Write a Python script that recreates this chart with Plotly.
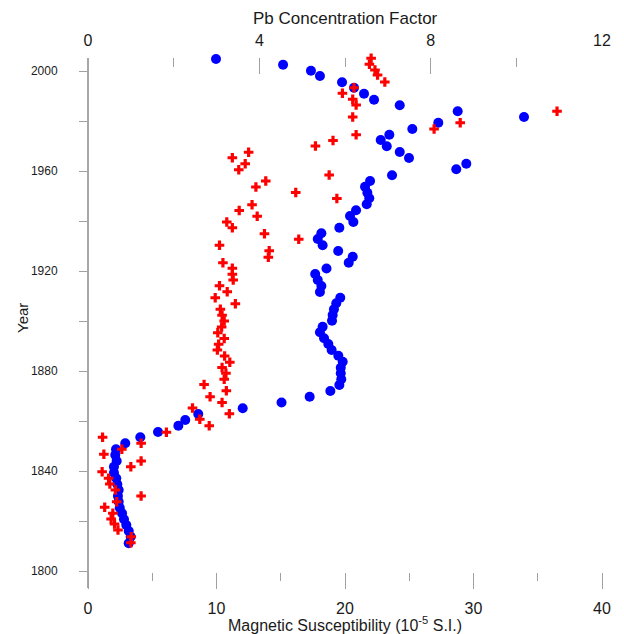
import plotly.graph_objects as go

# Magnetic susceptibility profile (blue circles)
years_ms = [2004.8, 2002.5, 2000.1, 1998.0, 1995.5, 1993.3, 1990.9, 1988.5, 1986.3, 1983.9,
            1981.6, 1979.3, 1976.8, 1974.5, 1972.4, 1969.9, 1967.6, 1965.2, 1962.9, 1960.7,
            1958.3, 1956.0, 1953.7, 1951.3, 1949.1, 1946.7, 1944.3, 1942.0, 1939.6, 1937.3,
            1935.1, 1932.8, 1930.3, 1928.0, 1925.7, 1923.3, 1921.0, 1918.8, 1916.4, 1914.0,
            1911.6, 1909.3, 1907.1, 1904.7, 1902.4, 1900.1, 1897.7, 1895.5, 1893.1, 1890.8,
            1888.4, 1886.1, 1883.7, 1881.3, 1879.1, 1876.7, 1874.4, 1872.0, 1869.7, 1867.4,
            1865.1, 1862.8, 1860.4, 1858.1, 1855.6, 1853.5, 1851.1, 1848.7, 1846.4, 1844.0,
            1841.7, 1839.3, 1837.1, 1834.7, 1832.4, 1830.0, 1827.7, 1825.3, 1823.1, 1820.7,
            1818.4, 1816.0, 1813.7, 1811.1]
mag_sus = [9.96, 15.18, 17.35, 18.05, 19.77, 20.70, 21.48, 22.26, 24.26, 28.77,
           33.93, 27.26, 25.24, 23.45, 22.78, 23.25, 24.26, 24.98, 29.44, 28.66,
           23.66, 21.95, 21.56, 21.74, 21.89, 21.69, 20.86, 20.39, 20.65, 19.56,
           18.16, 17.88, 18.26, 19.47, 20.60, 20.29, 18.56, 17.68, 17.88, 18.16,
           18.05, 19.63, 19.32, 19.14, 19.04, 18.99, 18.26, 18.05, 18.37, 18.70,
           18.96, 19.48, 19.82, 19.67, 19.67, 19.71, 19.56, 18.86, 17.25, 15.06,
           12.04, 8.58, 7.57, 7.03, 5.45, 4.07, 2.90, 2.18, 2.12, 2.23,
           2.02, 2.02, 2.20, 2.28, 2.39, 2.33, 2.39, 2.47, 2.65, 2.80,
           2.98, 3.17, 3.32, 3.17]

# Pb concentration factor profile (red crosses)
years_pb = [2005.1, 2002.7, 2000.4, 1998.4, 1995.6, 1993.3, 1991.1, 1988.7, 1986.4, 1983.9,
            1981.6, 1979.3, 1976.8, 1974.5, 1972.2, 1970.0, 1967.5, 1965.3, 1962.9, 1960.5,
            1958.4, 1956.0, 1953.6, 1951.4, 1949.0, 1946.5, 1944.2, 1941.9, 1939.6, 1937.3,
            1934.9, 1932.7, 1930.3, 1928.1, 1925.5, 1923.3, 1921.1, 1918.7, 1916.4, 1914.1,
            1911.7, 1909.3, 1906.9, 1904.7, 1902.3, 1900.0, 1897.6, 1895.3, 1893.0, 1890.7,
            1888.4, 1886.0, 1883.5, 1881.4, 1879.1, 1876.7, 1874.6, 1872.1, 1869.7, 1867.4,
            1865.2, 1862.9, 1860.7, 1858.1, 1855.5, 1853.5, 1851.1, 1848.7, 1846.7, 1844.0,
            1841.7, 1839.7, 1837.1, 1834.8, 1832.4, 1830.0, 1827.7, 1825.5, 1823.1, 1820.8,
            1818.8, 1816.4, 1813.7, 1811.3]
pb_cf = [6.61, 6.57, 6.70, 6.76, 6.93, 6.21, 5.94, 6.18, 6.26, 10.95,
         6.18, 8.69, 8.08, 6.26, 5.72, 5.31, 3.75, 3.37, 3.67, 3.52,
         5.63, 4.15, 3.92, 4.85, 5.81, 3.83, 3.53, 3.95, 3.24, 3.37,
         4.12, 4.92, 3.07, 4.23, 4.21, 3.15, 3.37, 3.37, 3.39, 3.07,
         3.25, 2.97, 3.44, 3.09, 3.13, 3.18, 3.12, 3.03, 3.18, 3.05,
         3.02, 3.19, 3.31, 3.13, 3.22, 3.18, 2.71, 3.23, 2.85, 3.13,
         2.44, 3.30, 2.61, 2.83, 1.83, 0.34, 1.24, 0.79, 0.37, 1.24,
         1.00, 0.33, 0.48, 0.51, 0.64, 1.24, 0.67, 0.39, 0.58, 0.54,
         0.62, 0.70, 1.01, 1.00]

ms_ticks = [0, 10, 20, 30, 40]
ms_minor = [5, 15, 25, 35]
pb_ticks = [0, 4, 8, 12]
pb_minor = [2, 6, 10]
year_ticks = [1800, 1840, 1880, 1920, 1960, 2000]
year_minor = [1820, 1860, 1900, 1940, 1980]

FONT = "Arial, Liberation Sans, sans-serif"
TICKC = "#a0a0a0"

fig = go.Figure()
fig.add_trace(go.Scatter(
    x=mag_sus, y=years_ms, mode="markers", xaxis="x", yaxis="y",
    marker=dict(symbol="circle", size=10, color="#0000ff", line=dict(width=0)),
    cliponaxis=False, showlegend=False, name="Magnetic Susceptibility"))
fig.add_trace(go.Scatter(
    x=pb_cf, y=years_pb, mode="markers", xaxis="x2", yaxis="y",
    marker=dict(symbol="cross", size=8, color="#ff0000", line=dict(width=0)),
    cliponaxis=False, showlegend=False, name="Pb Concentration Factor"))

PH = 514.0
PW = 514.0
fig.update_layout(
    width=616, height=626,
    margin=dict(l=80, r=22, t=50, b=62, pad=0),
    paper_bgcolor="white", plot_bgcolor="white",
    font=dict(family=FONT, color="#1a1a1a"),
    xaxis=dict(range=[0, 40], tickvals=ms_ticks, ticks="outside", ticklen=16,
               tickcolor=TICKC, tickwidth=1, showline=False, showgrid=False,
               zeroline=False, tickfont=dict(size=16, color="#1a1a1a"),
               ticklabelstandoff=6,
               minor=dict(tickvals=ms_minor, ticks="outside", ticklen=8,
                          tickcolor=TICKC, tickwidth=1, showgrid=False)),
    xaxis2=dict(range=[0, 12], overlaying="x", side="top", anchor="y",
                tickvals=pb_ticks, ticks="inside", ticklen=16, tickcolor=TICKC,
                tickwidth=1, showline=False, showgrid=False, zeroline=False,
                tickfont=dict(size=16, color="#1a1a1a"), ticklabelstandoff=8,
                minor=dict(tickvals=pb_minor, ticks="inside", ticklen=9,
                           tickcolor=TICKC, tickwidth=1, showgrid=False)),
    yaxis=dict(range=[1799.6, 2005.2], tickvals=year_ticks, ticks="outside",
               ticklen=8, tickcolor=TICKC, tickwidth=1, showline=False,
               showgrid=False, zeroline=False,
               tickfont=dict(size=12, color="#1a1a1a"), ticklabelstandoff=19,
               minor=dict(tickvals=year_minor, ticks="outside", ticklen=8,
                          tickcolor=TICKC, tickwidth=1, showgrid=False)),
    shapes=[dict(type="line", xref="paper", yref="paper", x0=0, x1=0,
                 y0=-16 / PH, y1=1, line=dict(color="#8a8a8a", width=1.5),
                 layer="below")],
    annotations=[
        dict(text="Magnetic Susceptibility (10<sup>-5</sup> S.I.)", xref="paper",
             yref="paper", x=(345 - 88) / PW, y=(572 - 624) / PH, showarrow=False,
             xanchor="center", yanchor="middle", font=dict(size=16, color="#1a1a1a")),
        dict(text="Pb Concentration Factor", xref="paper", yref="paper",
             x=(345 - 88) / PW, y=(572 - 18) / PH, showarrow=False,
             xanchor="center", yanchor="middle", font=dict(size=17, color="#1a1a1a")),
        dict(text="Year", xref="paper", yref="paper", x=(22 - 88) / PW,
             y=(572 - 318) / PH, showarrow=False, textangle=-90,
             xanchor="center", yanchor="middle", font=dict(size=15, color="#1a1a1a")),
    ],
)

fig.write_html("out.html")
